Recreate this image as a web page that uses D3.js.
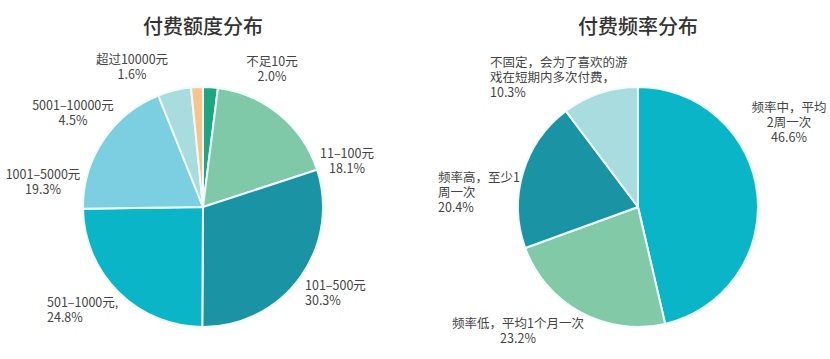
<!DOCTYPE html>
<html>
<head>
<meta charset="utf-8">
<script src="https://cdn.jsdelivr.net/npm/d3@7"></script>
<style>
  body { margin: 0; background: #fff; }
  svg { display: block; font-family: "Noto Sans CJK SC", "Noto Sans", sans-serif; }
  .title { font-size: 20px; fill: #333; font-weight: 500; }
  .lbl { font-size: 12.5px; fill: #444; }
</style>
</head>
<body>
<svg width="830" height="359"></svg>
<script>
// 付费额度分布
var amountNames = ["不足10元", "11-100元", "101-500元", "501-1000元", "1001-5000元", "5001-10000元", "超过10000元"]
var amountValues = [2.0, 18.1, 30.3, 24.8, 19.3, 4.5, 1.6]
var amountLabels = [["不足10元", "2.0%"], ["11–100元", "18.1%"], ["101–500元", "30.3%"], ["501–1000元,", "24.8%"],
    ["1001–5000元", "19.3%"], ["5001–10000元", "4.5%"], ["超过10000元", "1.6%"]]

// 付费频率分布
var freqNames = ["频率中", "频率低", "频率高", "不固定"]
var freqValues = [46.6, 23.2, 20.4, 10.3]
var freqLabels = [["频率中，平均", "2周一次", "46.6%"], ["频率低，平均1个月一次", "23.2%"],
    ["频率高，至少1", "周一次", "20.4%"], ["不固定，会为了喜欢的游", "戏在短期内多次付费，", "10.3%"]]

var amountColors = ["#20a67e", "#80c9a8", "#1a93a5", "#0ab5c8", "#7ccfe0", "#a9dcdf", "#f6c48c"]
var freqColors = ["#0ab5c8", "#82c9a8", "#1a93a5", "#a9dcdf"]

var svg = d3.select("svg")
var radius = 120

// label anchors: [x, y of first line, anchor]
var amountPos = [[272, 66, "middle"], [347, 158, "middle"], [305, 290, "start"], [47, 307, "start"],
    [43, 179, "middle"], [73, 110, "middle"], [132, 64, "middle"]]
var freqPos = [[789, 112, "middle"], [518, 328, "middle"], [438, 182, "start"], [490, 67, "start"]]

var drawPie = function (cx, title, names, values, colors, labels, pos)
{
    var g = svg.append("g").attr("transform", "translate(" + cx + ",207)")

    var pie = d3.pie().sort(null).value(function (d) { return d })
    var arc = d3.arc().innerRadius(0).outerRadius(radius)

    g.selectAll("path")
        .data(pie(values))
        .enter()
        .append("path")
        .attr("d", arc)
        .attr("fill", function (d, i) { return colors[i] })
        .attr("stroke", "#f2fbfc")
        .attr("stroke-width", 2)
        .attr("stroke-linejoin", "round")

    svg.append("text")
        .attr("class", "title")
        .attr("x", cx)
        .attr("y", 34)
        .attr("text-anchor", "middle")
        .text(title)

    names.forEach(function (n, i) {
        var t = svg.append("text")
            .attr("class", "lbl")
            .attr("text-anchor", pos[i][2])
        labels[i].forEach(function (line, j) {
            t.append("tspan")
                .attr("x", pos[i][0])
                .attr("y", pos[i][1] + j * 15)
                .text(line)
        })
    })
}

drawPie(203, "付费额度分布", amountNames, amountValues, amountColors, amountLabels, amountPos)
drawPie(638, "付费频率分布", freqNames, freqValues, freqColors, freqLabels, freqPos)
</script>
</body>
</html>
